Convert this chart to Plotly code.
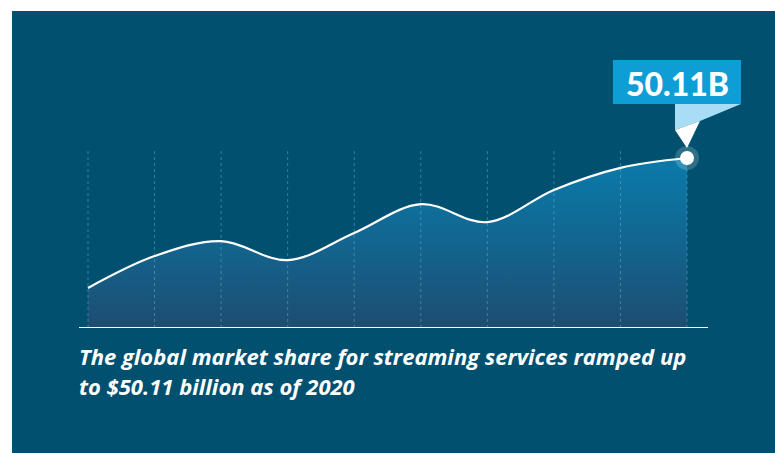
import plotly.graph_objects as go

# ---- data ----
years = [2011, 2012, 2013, 2014, 2015, 2016, 2017, 2018, 2019, 2020]
market_value_bn = [11.8, 21.2, 25.6, 20.0, 28.0, 36.5, 31.2, 40.7, 47.2, 50.11]
label_text = "50.11B"
caption_line1 = "The global market share for streaming services ramped up"
caption_line2 = "to $50.11 billion as of 2020"
grid_top = 53.0

W, H = 775, 453
BG = "#01506F"

def px(x):
    return x / W

def py(y):
    return 1 - y / H

fig = go.Figure()

# filled area with vertical gradient
fig.add_trace(go.Scatter(
    x=years, y=market_value_bn, mode="lines",
    line=dict(width=0, shape="spline", smoothing=1.0, color="rgba(0,0,0,0)"),
    fill="tozeroy",
    fillgradient=dict(type="vertical", start=0, stop=max(market_value_bn),
                      colorscale=[[0, "#1D4D72"], [0.5, "#12658F"], [1, "#0A7BAA"]]),
    hoverinfo="skip", showlegend=False,
))

# dotted vertical guide lines
gx, gy = [], []
for yr in years:
    gx += [yr, yr, None]
    gy += [0, grid_top, None]
fig.add_trace(go.Scatter(
    x=gx, y=gy, mode="lines",
    line=dict(color="rgba(120,185,215,0.45)", width=1, dash="dot"),
    hoverinfo="skip", showlegend=False,
))

# curve line
fig.add_trace(go.Scatter(
    x=years, y=market_value_bn, mode="lines",
    line=dict(color="white", width=2.2, shape="spline", smoothing=1.0),
    hoverinfo="skip", showlegend=False,
))

# glow + end marker
fig.add_trace(go.Scatter(
    x=[years[-1]], y=[market_value_bn[-1]], mode="markers",
    marker=dict(size=24, color="rgba(255,255,255,0.18)", line=dict(width=0)),
    hoverinfo="skip", showlegend=False,
))
fig.add_trace(go.Scatter(
    x=[years[-1]], y=[market_value_bn[-1]], mode="markers",
    marker=dict(size=14, color="white", line=dict(width=0)),
    hoverinfo="skip", showlegend=False,
))

shapes = [
    # dark panel
    dict(type="rect", xref="paper", yref="paper", x0=px(12), x1=1, y0=0, y1=py(11),
         fillcolor=BG, line=dict(width=0), layer="below"),
    # baseline
    dict(type="line", xref="x domain", yref="y", x0=0, x1=1, y0=0, y1=0,
         line=dict(color="white", width=2), layer="above"),
    # label box
    dict(type="rect", xref="paper", yref="paper", x0=px(613), x1=px(741), y0=py(104), y1=py(60),
         fillcolor="#0E9ED6", line=dict(width=0), layer="above"),
    # ribbon
    dict(type="path", xref="paper", yref="paper",
         path=f"M {px(675)} {py(104)} L {px(741)} {py(104)} L {px(700)} {py(121)} L {px(675)} {py(130)} Z",
         fillcolor="#A8DDF5", line=dict(width=0), layer="above"),
    dict(type="path", xref="paper", yref="paper",
         path=f"M {px(675)} {py(130)} L {px(700)} {py(121)} L {px(687)} {py(148)} Z",
         fillcolor="white", line=dict(width=0), layer="above"),
]

cap_font = dict(family="Open Sans", size=22, color="white", weight=700, style="italic")
annotations = [
    dict(text=label_text, xref="paper", yref="paper", x=px(677), y=py(83),
         xanchor="center", yanchor="middle", showarrow=False,
         font=dict(family="Lato", size=32, color="white", weight=900)),
    dict(text=caption_line1, xref="paper", yref="paper", x=px(77), y=py(356),
         xanchor="left", yanchor="middle", showarrow=False, font=cap_font),
    dict(text=caption_line2, xref="paper", yref="paper", x=px(77), y=py(386),
         xanchor="left", yanchor="middle", showarrow=False, font=cap_font),
]

ppy = 66.56
fig.update_layout(
    width=W, height=H,
    margin=dict(l=0, r=0, t=0, b=0),
    paper_bgcolor="white", plot_bgcolor="rgba(0,0,0,0)",
    shapes=shapes, annotations=annotations,
    xaxis=dict(domain=[px(79), px(708)], range=[2011 - 9 / ppy, 2020 + 21 / ppy],
               visible=False, fixedrange=True),
    yaxis=dict(domain=[py(328), py(40)], range=[0, 288 / 3.393],
               visible=False, fixedrange=True),
    showlegend=False,
)

fig.write_html(
    "out.html",
    config={"displayModeBar": False},
    post_script="document.body.style.margin='0';document.body.style.overflow='hidden';",
)
